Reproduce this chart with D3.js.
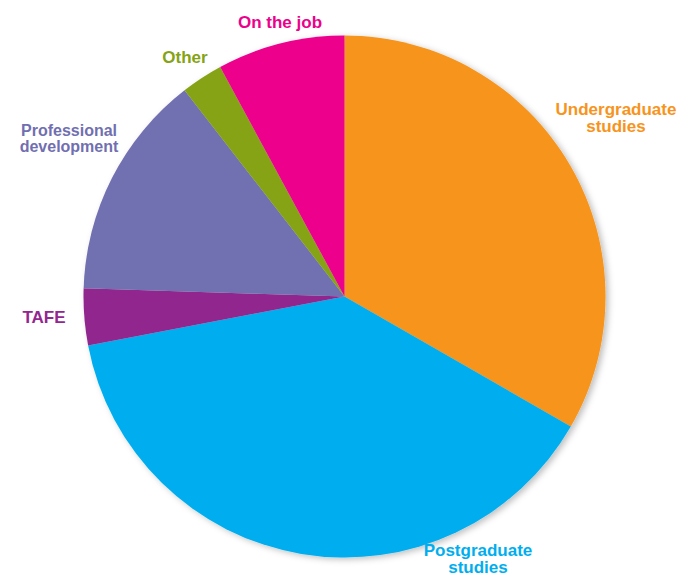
<!DOCTYPE html>
<html>
<head>
<meta charset="utf-8">
<script src="https://cdn.jsdelivr.net/npm/d3@7"></script>
<style>
  body { margin: 0; background: #fff; }
  text { font-family: "Liberation Sans", Arial, Helvetica, sans-serif; font-weight: bold; }
</style>
</head>
<body>
<script>
var w = 679,
    h = 574,
    cx = 344.5,
    cy = 296.5,
    radius = 261;

// data, clockwise from 12 o'clock
var categories = ["Undergraduate studies", "Postgraduate studies", "TAFE",
                  "Professional development", "Other", "On the job"];
var shares = [33.3, 38.7, 3.5, 14.0, 2.6, 7.9];
var colors = ["#f7941d", "#00aeef", "#92278f", "#716fb0", "#86a316", "#ec008c"];

// label placement (centre x, first baseline y, font size)
var labelLayout = [
  { x: 616, y: 115, size: 17 },
  { x: 478, y: 556, size: 17 },
  { x: 44,  y: 323, size: 17 },
  { x: 69,  y: 136, size: 16 },
  { x: 185, y: 63,  size: 17 },
  { x: 280, y: 28,  size: 17 }
];

var svg = d3.select("body").append("svg")
  .attr("width", w)
  .attr("height", h);

var defs = svg.append("defs");
defs.append("filter")
  .attr("id", "shadow")
  .attr("x", "-10%").attr("y", "-10%")
  .attr("width", "120%").attr("height", "120%")
  .append("feDropShadow")
  .attr("dx", 3).attr("dy", 2)
  .attr("stdDeviation", 3)
  .attr("flood-color", "#000")
  .attr("flood-opacity", 0.25);

var pie = d3.pie().sort(null).value(function(d) { return d; });
var arc = d3.arc().innerRadius(0).outerRadius(radius);

var g = svg.append("g")
  .attr("transform", "translate(" + cx + "," + cy + ")")
  .attr("filter", "url(#shadow)");

g.selectAll("path")
  .data(pie(shares))
  .enter().append("path")
  .attr("d", arc)
  .attr("fill", function(d, i) { return colors[i]; });

// labels
categories.forEach(function(name, i) {
  var lp = labelLayout[i];
  var words = name.split(" ");
  var lines = (words.length > 1 && name !== "On the job")
    ? [words.slice(0, -1).join(" "), words[words.length - 1]]
    : [name];
  var t = svg.append("text")
    .attr("x", lp.x)
    .attr("y", lp.y)
    .attr("text-anchor", "middle")
    .attr("font-size", lp.size)
    .attr("fill", colors[i]);
  lines.forEach(function(line, j) {
    t.append("tspan")
      .attr("x", lp.x)
      .attr("dy", j === 0 ? 0 : lp.size)
      .text(line);
  });
});
</script>
</body>
</html>
